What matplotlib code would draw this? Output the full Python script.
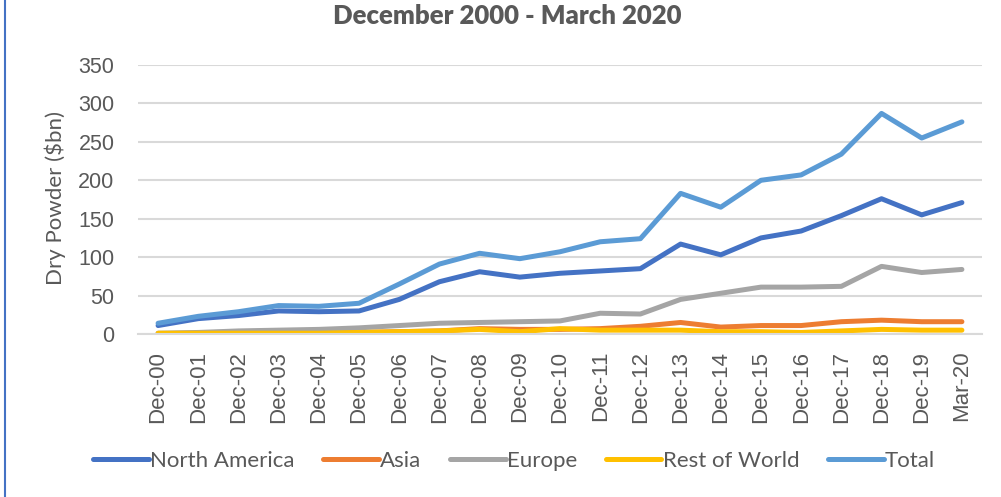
import matplotlib
matplotlib.use("Agg")
import matplotlib.pyplot as plt
from matplotlib.lines import Line2D
import numpy as np

# Dry powder by region, $bn
periods = ["Dec-00", "Dec-01", "Dec-02", "Dec-03", "Dec-04", "Dec-05", "Dec-06",
           "Dec-07", "Dec-08", "Dec-09", "Dec-10", "Dec-11", "Dec-12", "Dec-13",
           "Dec-14", "Dec-15", "Dec-16", "Dec-17", "Dec-18", "Dec-19", "Mar-20"]
north_america = [11, 20, 24, 30, 29, 30, 45, 68, 81, 74, 79, 82, 85, 117,
                 103, 125, 134, 154, 176, 155, 171]
asia = [0.5, 1, 1, 1, 2, 2, 3, 4, 7, 6, 6, 7, 10, 15, 9, 11, 11, 16, 18, 16, 16]
europe = [1, 2, 4, 5, 6, 8, 11, 14, 15, 16, 17, 27, 26, 45, 53, 61, 61, 62,
          88, 80, 84]
rest_of_world = [1, 1, 1, 1, 1, 2, 3, 4, 6, 3, 7, 5, 5, 5, 3, 3, 2, 4, 6, 5, 5]
total = [14, 23, 29, 37, 36, 40, 65, 91, 105, 98, 107, 120, 124, 183, 165,
         200, 207, 234, 287, 255, 276]

series = [
    ("North America", north_america, "#4472C4"),
    ("Asia", asia, "#ED7D31"),
    ("Europe", europe, "#A5A5A5"),
    ("Rest of World", rest_of_world, "#FFC000"),
    ("Total", total, "#5B9BD5"),
]

text_col = "#595959"
grid_col = "#D9D9D9"

fig = plt.figure(figsize=(10.01, 4.97), dpi=100)
ax = fig.add_axes([138 / 1001, 1 - 334 / 497, 844 / 1001, 269 / 497])

x = np.arange(len(periods))
for name, vals, col in series:
    ax.plot(x, vals, color=col, linewidth=3.6, solid_capstyle="round",
            solid_joinstyle="round", label=name)

ax.set_xlim(-0.5, len(periods) - 0.5)
ax.set_ylim(0, 350)
ax.set_yticks(np.arange(0, 351, 50))
ax.set_xticks(x)
ax.set_xticklabels(periods, rotation=90, fontsize=16, color=text_col,
                   family="Liberation Sans")
for lbl in ax.get_yticklabels():
    lbl.set_family("Liberation Sans")
ax.tick_params(axis="y", length=0, pad=17, labelsize=15.5, labelcolor=text_col)
ax.tick_params(axis="x", length=0, pad=12)
ax.grid(True, axis="y", color=grid_col, linewidth=1.5)
ax.set_axisbelow(True)
for s in ["top", "right", "left"]:
    ax.spines[s].set_visible(False)
ax.spines["bottom"].set_color(grid_col)
ax.spines["bottom"].set_linewidth(1.5)

fig.text(507 / 1001, 1 - 16 / 497, "December 2000 - March 2020", ha="center",
         va="center", fontsize=18.5, fontweight="heavy", color=text_col,
         family="Lato")
fig.text(55 / 1001, 1 - 198 / 497, "Dry Powder ($bn)", rotation=90,
         ha="center", va="center", fontsize=16, color=text_col, family="Lato")

leg = fig.legend(loc="center", bbox_to_anchor=(514 / 1001, 1 - 461 / 497),
                 ncol=5, frameon=False, handlelength=2.5, handletextpad=0.05,
                 columnspacing=1.3, prop={"family": "Lato", "size": 16})
for t in leg.get_texts():
    t.set_color(text_col)

# thin accent bar at the left edge
fig.add_artist(Line2D([5 / 1001, 5 / 1001], [0, 1], color="#4472C4",
                      linewidth=1.5, transform=fig.transFigure))

fig.savefig("out.png", dpi=100)
